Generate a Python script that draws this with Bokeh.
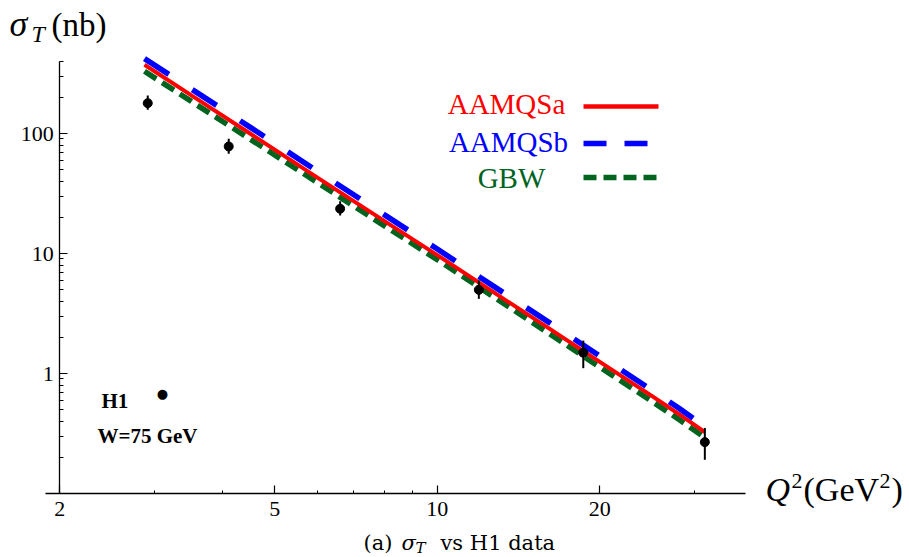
import math
from bokeh.plotting import figure
from bokeh.models import Range1d, FixedTicker, BasicTickFormatter, Label, Arrow, LogAxis
from bokeh.embed import file_html
from bokeh.resources import INLINE

# ---- data ----
q2_curve = [2.87, 3.5, 4.5, 6.0, 8.0, 10.0, 13.0, 16.0, 20.0, 25.0, 28.0, 31.3]
sigma_aamqsa = [374, 209, 100, 42.9, 18.5, 9.7, 4.45, 2.42, 1.25, 0.648, 0.46, 0.325]
sigma_aamqsb = [421, 236, 113, 48.5, 20.9, 10.9, 5.0, 2.72, 1.40, 0.725, 0.515, 0.36]
sigma_gbw = [330, 186, 90, 39.0, 16.9, 8.9, 4.08, 2.2, 1.13, 0.585, 0.415, 0.293]

q2_h1 = [2.91, 4.11, 6.61, 11.94, 18.64, 31.3]
sigma_h1 = [179, 78, 23.6, 4.98, 1.49, 0.268]
sigma_h1_lo = [158, 67.8, 20.7, 4.19, 1.107, 0.191]
sigma_h1_hi = [207, 90.3, 27.3, 5.96, 1.88, 0.352]

x_major = [2, 5, 10, 20]
x_minor = [3, 4, 6, 7, 8, 9, 30]
y_major = [1, 10, 100]
y_minor = [0.2, 0.3, 0.4, 0.5, 0.6, 0.7, 0.8, 0.9,
           2, 3, 4, 5, 6, 7, 8, 9,
           20, 30, 40, 50, 60, 70, 80, 90,
           200, 300, 400]

series_names = ["AAMQSa", "AAMQSb", "GBW"]
RED, BLUE, GREEN = "#ff0000", "#0000ff", "#00641e"
SERIF = "Liberation Serif"

W, H = 909, 557
# plot-area geometry (pixels): Q2=2 at x=59.3, 540 px/decade; sigma=0.1 at y=493, 120 px/decade
X0, XPD = 59.3, 540.0
Y0, YPD = 493.0, 120.0
x_lo = 10 ** (math.log10(2) - X0 / XPD)
x_hi = 10 ** (math.log10(2) + (W - X0) / XPD)
y_hi = 10 ** (-1 + Y0 / YPD)
y_lo = 10 ** (-1 - (H - Y0) / YPD)

def sx(X):
    return X
def sy(Y):
    return H - Y

p = figure(width=W, height=H, x_axis_type="log", y_axis_type="log",
           x_range=Range1d(x_lo, x_hi), y_range=Range1d(y_lo, y_hi),
           x_axis_location=None, y_axis_location=None,
           min_border=0, output_backend="svg", toolbar_location=None)
p.outline_line_color = None
p.xgrid.visible = False
p.ygrid.visible = False
p.background_fill_color = "white"
p.border_fill_color = "white"

xaxis = LogAxis(fixed_location=0.1, bounds=(1.88, 37.2))
yaxis = LogAxis(fixed_location=2, bounds=(0.1, 398))
for ax, major, minor, mt in ((xaxis, x_major, x_minor, 3), (yaxis, y_major, y_minor, 4)):
    ax.ticker = FixedTicker(ticks=major, minor_ticks=minor)
    ax.formatter = BasicTickFormatter()
    ax.axis_line_color = "black"
    ax.axis_line_width = 1.3
    ax.major_tick_in = 8
    ax.major_tick_out = 0
    ax.minor_tick_in = mt
    ax.minor_tick_out = 0
    ax.major_tick_line_width = 1.2
    ax.minor_tick_line_width = 1.0
    ax.major_label_text_font = SERIF
    ax.major_label_text_font_size = "22px"
    ax.major_label_text_color = "black"
xaxis.major_label_standoff = 8
yaxis.major_label_standoff = 6
p.add_layout(xaxis, "below")
p.add_layout(yaxis, "left")

# curves
p.line(q2_curve, sigma_gbw, line_color=GREEN, line_width=5.5, line_dash="14 7")
p.line(q2_curve, sigma_aamqsa, line_color=RED, line_width=4)
p.line(q2_curve, sigma_aamqsb, line_color=BLUE, line_width=5.5, line_dash="29 28")

# data with error bars
p.segment(x0=q2_h1, y0=sigma_h1_lo, x1=q2_h1, y1=sigma_h1_hi, line_color="black", line_width=2)
p.scatter(q2_h1, sigma_h1, size=9, fill_color="black", line_color="black")

def lab(text, X, Y, size, color="black", font=SERIF, style="normal", align="left", baseline="alphabetic"):
    # Y is the wanted baseline on the page; correct for the renderer's baseline placement
    if baseline == "alphabetic":
        Y = Y - 0.37 * size
    p.add_layout(Label(x=sx(X), y=sy(Y), x_units="screen", y_units="screen", text=text,
                       text_font=font, text_font_size=f"{size}px", text_color=color,
                       text_font_style=style, text_align=align, text_baseline=baseline))

# axis titles
lab("σ", 9, 37, 36, style="italic")
lab("T", 31, 42, 24, style="italic")
lab("(nb)", 51, 37, 33)
lab("Q", 765, 502, 34, style="italic")
lab("2", 791, 489, 22)
lab("(GeV", 803, 502, 34)
lab("2", 879, 489, 22)
lab(")", 891, 502, 34)

# legend
legend_colors = [RED, BLUE, GREEN]
legend_dash = ["solid", "23 18", "13 7"]
legend_width = [4.5, 5.5, 5.5]
legend_text_x = [506, 508, 511]
legend_text_y = [114, 152, 188]
legend_line_y = [106, 143, 177]
for name, c, d, w, tx, ty, ly in zip(series_names, legend_colors, legend_dash, legend_width,
                                     legend_text_x, legend_text_y, legend_line_y):
    lab(name, tx, ty, 29, color=c, align="center")
    p.add_layout(Arrow(end=None, x_start=sx(583), y_start=sy(ly), x_end=sx(658), y_end=sy(ly),
                       start_units="screen", end_units="screen",
                       line_color=c, line_width=w, line_dash=d))

# H1 key
lab("H1", 101, 408, 21, style="bold")
lab("●", 162, 393, 13, font="DejaVu Sans", align="center", baseline="middle")
lab("W=75 GeV", 97, 443, 21, style="bold")

# caption
CAP = "DejaVu Serif"
lab("(a)", 363, 550, 21, font=CAP)
lab("σ", 401, 550, 21, font=CAP, style="italic")
lab("T", 415, 553, 15, font=CAP, style="italic")
lab("vs H1 data", 440, 550, 21, font=CAP)

open("out.html", "w").write(file_html(p, INLINE))
